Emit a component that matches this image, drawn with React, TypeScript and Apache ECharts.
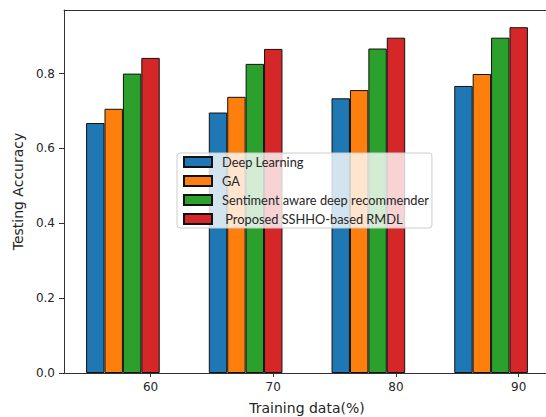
import React, { useEffect, useRef } from "react";
import * as echarts from "echarts";

const categories = [60, 70, 80, 90];
const seriesNames = [
  "Deep Learning",
  "GA",
  "Sentiment aware deep recommender",
  " Proposed SSHHO-based RMDL",
];
const deepLearning = [0.668, 0.696, 0.734, 0.767];
const ga = [0.706, 0.738, 0.756, 0.799];
const sentiment = [0.8, 0.826, 0.867, 0.896];
const proposed = [0.842, 0.866, 0.896, 0.924];
const yTicks = [0, 0.2, 0.4, 0.6, 0.8];

const colors = ["#1f77b4", "#ff7f0e", "#2ca02c", "#d62728"];

export default function App() {
  const ref = useRef<HTMLDivElement>(null);
  useEffect(() => {
    if (!ref.current) return;
    const chart = echarts.init(ref.current, undefined, { renderer: "svg" });
    const allValues = [deepLearning, ga, sentiment, proposed];
    const unit = 1.5; // bar width in data units
    const xMin = 52.95;
    const xMax = 92.55;
    const gridLeft = 64;
    const gridRight = -4;
    const plotW = 546 - gridLeft - gridRight;
    const barPx = (unit * plotW) / (xMax - xMin);
    const textColor = "#262626";
    chart.setOption({
      animation: false,
      grid: {
        left: gridLeft,
        right: gridRight,
        top: 10,
        bottom: 44,
        outerBoundsMode: "none",
        containLabel: false,
        show: false,
      },
      legend: {
        orient: "vertical",
        left: 177,
        top: 153,
        data: seriesNames,
        icon: "rect",
        itemWidth: 28,
        itemHeight: 10,
        itemGap: 5,
        backgroundColor: "rgba(255,255,255,0.8)",
        borderColor: "#cccccc",
        borderWidth: 1,
        borderRadius: 3,
        padding: [2, 3, 2, 6],
        textStyle: {
          fontFamily: "Lato",
          fontSize: 12.8,
          color: textColor,
          lineHeight: 14,
          padding: [0, 0, 0, 5],
        },
      },
      xAxis: [
        {
          type: "value",
          min: xMin,
          max: xMax,
          name: "Training data(%)",
          nameLocation: "middle",
          nameGap: 28,
          nameTextStyle: { fontFamily: "DejaVu Sans", fontSize: 14, color: textColor },
          axisLine: { show: true, lineStyle: { color: "#333", width: 1 } },
          axisTick: {
            show: true,
            length: 4,
            customValues: categories,
            lineStyle: { color: "#333" },
          },
          axisLabel: {
            customValues: categories,
            margin: 8,
            fontFamily: "DejaVu Sans",
            fontSize: 12,
            color: textColor,
          },
          splitLine: { show: false },
        },
        {
          type: "value",
          position: "top",
          min: xMin,
          max: xMax,
          axisLine: { show: true, onZero: false, lineStyle: { color: "#333", width: 1 } },
          axisTick: { show: false },
          axisLabel: { show: false },
          splitLine: { show: false },
        },
      ],
      yAxis: {
        type: "value",
        min: 0,
        max: 0.97,
        name: "Testing Accuracy",
        nameLocation: "middle",
        nameGap: 37,
        nameTextStyle: { fontFamily: "DejaVu Sans", fontSize: 14, color: textColor },
        axisLine: { show: true, lineStyle: { color: "#333", width: 1 } },
        axisTick: {
          show: true,
          length: 5,
          customValues: yTicks,
          lineStyle: { color: "#333" },
        },
        axisLabel: {
          customValues: yTicks,
          margin: 9,
          fontFamily: "DejaVu Sans",
          fontSize: 12,
          color: textColor,
          formatter: (v: number) => v.toFixed(1),
        },
        splitLine: { show: false },
      },
      series: allValues.map((vals, i) => ({
        type: "bar",
        name: seriesNames[i],
        xAxisIndex: 0,
        barWidth: barPx,
        barGap: "-100%",
        itemStyle: { color: colors[i], borderColor: "#111", borderWidth: 1 },
        data: categories.map((c, j) => [c - (3 - i) * unit, vals[j]]),
      })),
    });
    return () => chart.dispose();
  }, []);
  return (
    <div
      ref={ref}
      style={{ position: "fixed", left: 0, top: 0, width: 546, height: 417, background: "#fff" }}
    />
  );
}
